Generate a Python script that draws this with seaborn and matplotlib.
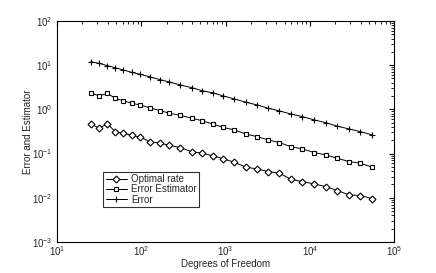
import numpy as np
import pandas as pd
import matplotlib
matplotlib.use("Agg")
import matplotlib.pyplot as plt
import seaborn as sns

# degrees of freedom for each refinement step
dof = [25, 31.5, 39.5, 48.8, 61.2, 77, 96.6, 127, 167, 215, 288, 397, 522, 716,
       942, 1271, 1738, 2366, 3221, 4355, 5943, 8166, 11324, 15453, 21232,
       29242, 39811, 54828]

optimal_rate = [0.474, 0.373, 0.474, 0.313, 0.288, 0.259, 0.234, 0.186, 0.171,
                0.154, 0.136, 0.110, 0.102, 0.0883, 0.076, 0.0635, 0.049,
                0.0449, 0.039, 0.0358, 0.0262, 0.0231, 0.0205, 0.0178, 0.0145,
                0.01156, 0.0112, 0.00955]

error_estimator = [2.39, 2.01, 2.31, 1.78, 1.57, 1.37, 1.26, 1.08, 0.935, 0.817,
                   0.736, 0.630, 0.555, 0.46, 0.39, 0.342, 0.277, 0.241, 0.203,
                   0.177, 0.143, 0.127, 0.105, 0.093, 0.078, 0.0656, 0.0604,
                   0.049]

error = [12.0, 11.0, 9.75, 8.78, 7.78, 6.90, 6.22, 5.41, 4.70, 4.17, 3.57, 3.10,
         2.65, 2.35, 2.01, 1.72, 1.45, 1.26, 1.06, 0.92, 0.787, 0.684, 0.576,
         0.50, 0.415, 0.36, 0.313, 0.264]

series = [('Optimal rate', optimal_rate, 'D'),
          ('Error Estimator', error_estimator, 's'),
          ('Error', error, '+')]

sns.set_style("white")
plt.rcParams['font.family'] = ['Liberation Sans', 'DejaVu Sans']

fig = plt.figure(figsize=(4.36, 2.73), dpi=100)
ax = fig.add_axes([0.131, 0.114, 0.773, 0.809])

for name, vals, mk in series:
    df = pd.DataFrame({'dof': dof, 'value': vals})
    sns.lineplot(data=df, x='dof', y='value', color='black', marker=mk,
                 linewidth=0.7, markersize=3.5 if mk != '+' else 5,
                 markerfacecolor='white', markeredgecolor='black',
                 markeredgewidth=0.8, label=name, ax=ax)

ax.set_xscale('log')
ax.set_yscale('log')
ax.set_xlim(10, 1e5)
ax.set_ylim(1e-3, 1e2)
ax.set_xlabel('Degrees of Freedom', fontsize=7)
ax.set_ylabel('Error and Estimator', fontsize=7)
ax.xaxis.set_label_coords(0.5, -0.078)
ax.yaxis.set_label_coords(-0.071, 0.5)

for s in ax.spines.values():
    s.set_color('black')
    s.set_linewidth(0.8)
ax.tick_params(which='both', direction='in', top=True, right=True,
               labelsize=7, color='black')
ax.tick_params(axis='x', which='major', pad=2)
ax.tick_params(which='major', length=3.5)
ax.tick_params(which='minor', length=2)

leg = ax.legend(loc='lower left', bbox_to_anchor=(0.137, 0.158), fontsize=7,
                frameon=True, fancybox=False, edgecolor='black',
                handlelength=2.2, borderpad=0.25, labelspacing=0.02,
                handletextpad=0.4, borderaxespad=0)
leg.get_frame().set_linewidth(0.8)

fig.savefig('out.png', dpi=100)
